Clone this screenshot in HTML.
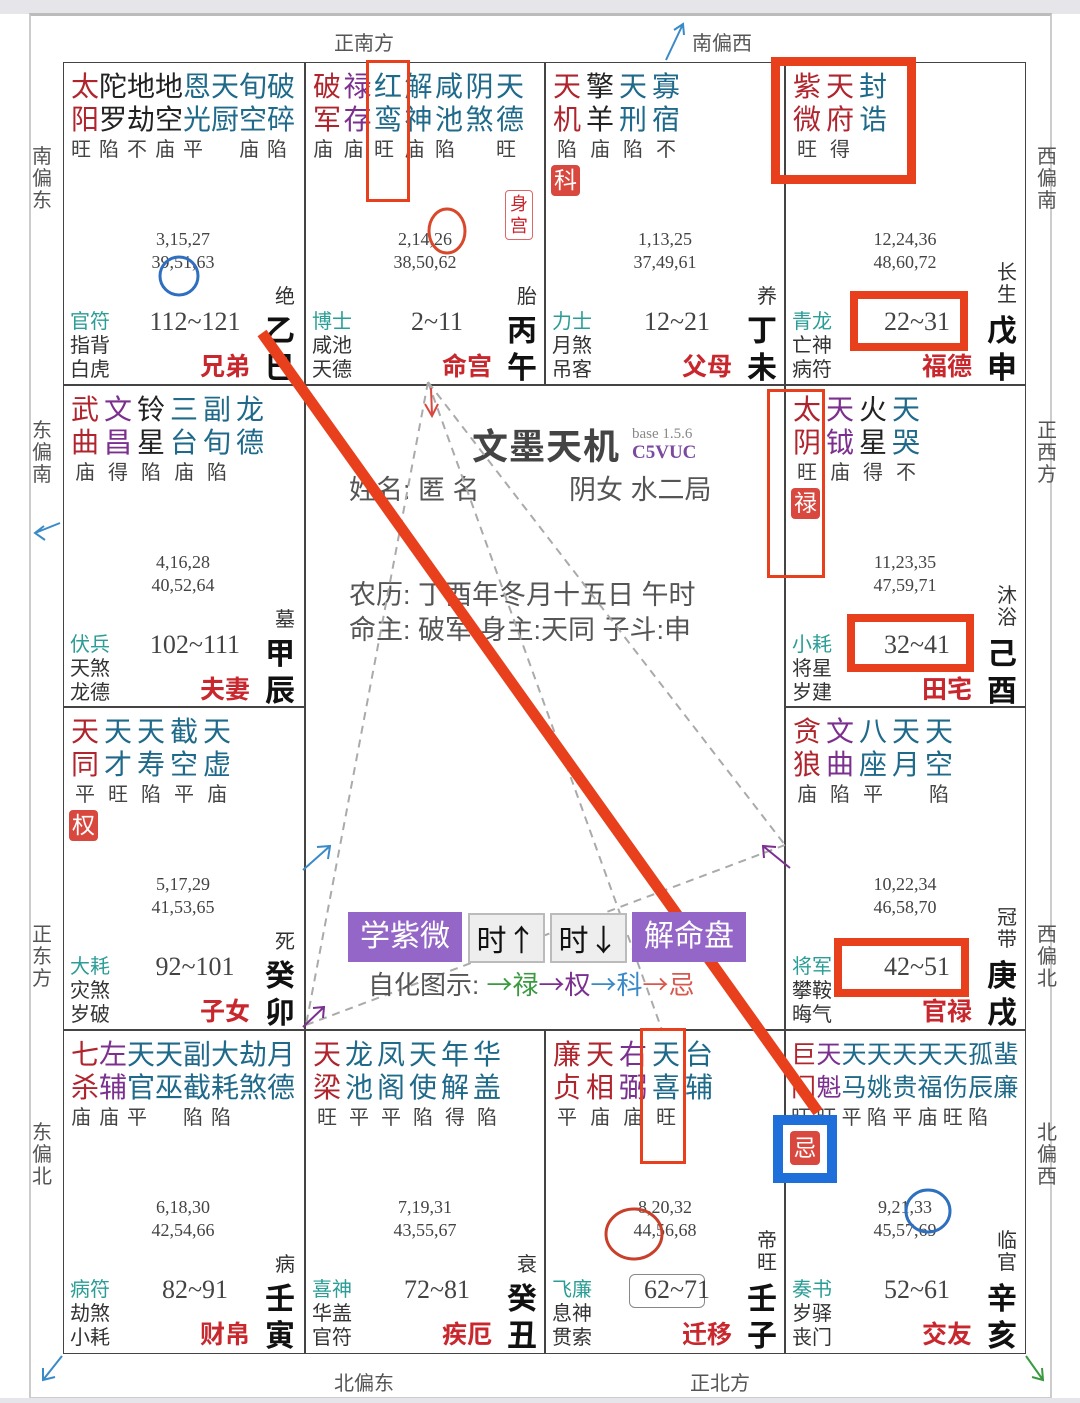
<!DOCTYPE html>
<html><head><meta charset="utf-8"><style>
*{margin:0;padding:0;box-sizing:border-box}
body{width:1080px;height:1403px;background:#fff;position:relative;overflow:hidden;font-family:"Liberation Sans","Noto Sans CJK SC",sans-serif}
.a{position:absolute}
.c{position:absolute;width:240px;height:322px}
.s{position:absolute;left:8px;font-size:28px;line-height:32px;white-space:nowrap;color:#222}
.s1{top:9px}.s2{top:42px}
.br{position:absolute;left:12px;top:76px;font-size:20px;line-height:24px;color:#444;white-space:nowrap}
.R{color:#b0252d}.T{color:#1f6a8a}.P{color:#7b2f8e}.K{color:#222}
.n{position:absolute;left:0;width:240px;top:166px;text-align:center;font:18px/23px "Liberation Serif","Noto Serif CJK SC",serif;color:#444}
.g{position:absolute;left:7px;top:248px;font-size:20px;line-height:24px;color:#333}
.gt{color:#2a9d96}
.rg{position:absolute;left:70px;width:124px;top:244px;text-align:center;font:26px/32px "Liberation Serif",serif;color:#444}
.pn{position:absolute;right:53px;top:290px;font-size:25px;line-height:30px;font-weight:bold;color:#c8272e}
.sb{position:absolute;left:202px;top:251px;font-size:30px;line-height:37px;font-weight:bold;color:#111}
.cs{position:absolute;left:212px;top:224px;font-size:20px;line-height:22px;color:#333;width:22px}
.cs2{top:200px}
.bd{position:absolute;left:6px;top:103px;width:29px;height:31px;background:#d9483e;color:#fff;font-size:23px;line-height:31px;text-align:center;border-radius:4px}
.vl{position:absolute;font-size:20px;line-height:22px;color:#555;width:22px}
.hl{position:absolute;font-size:20px;color:#555}
.box{position:absolute;border:solid #e8401c}
.ar{font-family:"Noto Sans CJK SC",sans-serif}
</style></head><body>
<div class="a" style="left:0;top:0;width:1080px;height:14px;background:#e6e6ea"></div>
<div class="a" style="left:29px;top:13px;width:1023px;height:1386px;border:2px solid #ccc;border-top:3px solid #bbb"></div>
<div class="a" style="left:0;top:1398px;width:1080px;height:5px;background:#e6e6ea"></div>
<div class="a" style="left:63px;top:62px;width:963px;height:1292px;border:1.5px solid #444"></div>
<div class="a" style="left:304px;top:62px;width:1.5px;height:1292px;background:#444"></div>
<div class="a" style="left:784px;top:62px;width:1.5px;height:1292px;background:#444"></div>
<div class="a" style="left:544px;top:62px;width:1.5px;height:323px;background:#444"></div>
<div class="a" style="left:544px;top:1030px;width:1.5px;height:323px;background:#444"></div>
<div class="a" style="left:63px;top:384px;width:963px;height:1.5px;background:#444"></div>
<div class="a" style="left:63px;top:1029px;width:963px;height:1.5px;background:#444"></div>
<div class="a" style="left:63px;top:706px;width:242px;height:1.5px;background:#444"></div>
<div class="a" style="left:784px;top:706px;width:242px;height:1.5px;background:#444"></div>

<div class="hl" style="left:334px;top:27px">正南方</div>
<div class="hl" style="left:692px;top:27px">南偏西</div>
<div class="hl" style="left:334px;top:1367px">北偏东</div>
<div class="hl" style="left:690px;top:1367px">正北方</div>
<div class="vl" style="left:32px;top:146px">南偏东</div>
<div class="vl" style="left:1037px;top:146px">西偏南</div>
<div class="vl" style="left:32px;top:420px">东偏南</div>
<div class="vl" style="left:1037px;top:420px">正西方</div>
<div class="vl" style="left:32px;top:924px">正东方</div>
<div class="vl" style="left:1037px;top:924px">西偏北</div>
<div class="vl" style="left:32px;top:1122px">东偏北</div>
<div class="vl" style="left:1037px;top:1122px">北偏西</div>

<div class="c" style="left:63px;top:62px">
<div class="s s1"><span class="R">太</span>陀地地<span class="T">恩天旬破</span></div>
<div class="s s2"><span class="R">阳</span>罗劫空<span class="T">光厨空碎</span></div>
<div class="br" style="left:8px;letter-spacing:8px">旺陷不庙平　庙陷</div>
<div class="n">3,15,27<br>39,51,63</div>
<div class="g"><span class="gt">官符</span><br>指背<br>白虎</div>
<div class="rg">112~121</div><div class="pn">兄弟</div><div class="sb">乙<br>巳</div><div class="cs">绝</div>
</div>
<div class="c" style="left:305px;top:62px">
<div class="s s1" style="letter-spacing:2.5px"><span class="R">破</span><span class="P">禄</span><span class="T">红解咸阴天</span></div>
<div class="s s2" style="letter-spacing:2.5px"><span class="R">军</span><span class="P">存</span><span class="T">鸾神池煞德</span></div>
<div class="br" style="left:8px;letter-spacing:10.5px">庙庙旺庙陷　旺</div>
<div class="a" style="left:200px;top:128px;width:28px;height:50px;border:1.5px solid #d66;border-radius:4px;color:#c8272e;font-size:18px;line-height:22px;text-align:center;padding-top:2px">身<br>宫</div>
<div class="n">2,14,26<br>38,50,62</div>
<div class="g"><span class="gt">博士</span><br>咸池<br>天德</div>
<div class="rg">2~11</div><div class="pn">命宫</div><div class="sb">丙<br>午</div><div class="cs">胎</div>
</div>
<div class="c" style="left:545px;top:62px">
<div class="s s1" style="letter-spacing:5px"><span class="R">天</span>擎<span class="T">天寡</span></div>
<div class="s s2" style="letter-spacing:5px"><span class="R">机</span>羊<span class="T">刑宿</span></div>
<div class="br" style="letter-spacing:13px">陷庙陷不</div>
<div class="bd">科</div>
<div class="n">1,13,25<br>37,49,61</div>
<div class="g"><span class="gt">力士</span><br>月煞<br>吊客</div>
<div class="rg">12~21</div><div class="pn">父母</div><div class="sb">丁<br>未</div><div class="cs">养</div>
</div>
<div class="c" style="left:785px;top:62px">
<div class="s s1" style="letter-spacing:5px"><span class="R">紫天</span><span class="T">封</span></div>
<div class="s s2" style="letter-spacing:5px"><span class="R">微府</span><span class="T">诰</span></div>
<div class="br" style="letter-spacing:13px">旺得</div>
<div class="n">12,24,36<br>48,60,72</div>
<div class="g"><span class="gt">青龙</span><br>亡神<br>病符</div>
<div class="rg">22~31</div><div class="pn">福德</div><div class="sb">戊<br>申</div><div class="cs cs2">长<br>生</div>
</div>
<div class="c" style="left:63px;top:385px">
<div class="s s1" style="letter-spacing:5px"><span class="R">武</span><span class="P">文</span>铃<span class="T">三副龙</span></div>
<div class="s s2" style="letter-spacing:5px"><span class="R">曲</span><span class="P">昌</span>星<span class="T">台旬德</span></div>
<div class="br" style="letter-spacing:13px">庙得陷庙陷</div>
<div class="n">4,16,28<br>40,52,64</div>
<div class="g"><span class="gt">伏兵</span><br>天煞<br>龙德</div>
<div class="rg">102~111</div><div class="pn">夫妻</div><div class="sb">甲<br>辰</div><div class="cs">墓</div>
</div>
<div class="c" style="left:785px;top:385px">
<div class="s s1" style="letter-spacing:5px"><span class="R">太</span><span class="P">天</span>火<span class="T">天</span></div>
<div class="s s2" style="letter-spacing:5px"><span class="R">阴</span><span class="P">钺</span>星<span class="T">哭</span></div>
<div class="br" style="letter-spacing:13px">旺庙得不</div>
<div class="bd">禄</div>
<div class="n">11,23,35<br>47,59,71</div>
<div class="g"><span class="gt">小耗</span><br>将星<br>岁建</div>
<div class="rg">32~41</div><div class="pn">田宅</div><div class="sb">己<br>酉</div><div class="cs cs2">沐<br>浴</div>
</div>
<div class="c" style="left:63px;top:707px">
<div class="s s1" style="letter-spacing:5px"><span class="R">天</span><span class="T">天天截天</span></div>
<div class="s s2" style="letter-spacing:5px"><span class="R">同</span><span class="T">才寿空虚</span></div>
<div class="br" style="letter-spacing:13px">平旺陷平庙</div>
<div class="bd">权</div>
<div class="n">5,17,29<br>41,53,65</div>
<div class="g"><span class="gt">大耗</span><br>灾煞<br>岁破</div>
<div class="rg">92~101</div><div class="pn">子女</div><div class="sb">癸<br>卯</div><div class="cs">死</div>
</div>
<div class="c" style="left:785px;top:707px">
<div class="s s1" style="letter-spacing:5px"><span class="R">贪</span><span class="P">文</span><span class="T">八天天</span></div>
<div class="s s2" style="letter-spacing:5px"><span class="R">狼</span><span class="P">曲</span><span class="T">座月空</span></div>
<div class="br" style="letter-spacing:13px">庙陷平　陷</div>
<div class="n">10,22,34<br>46,58,70</div>
<div class="g"><span class="gt">将军</span><br>攀鞍<br>晦气</div>
<div class="rg">42~51</div><div class="pn">官禄</div><div class="sb">庚<br>戌</div><div class="cs cs2">冠<br>带</div>
</div>
<div class="c" style="left:63px;top:1030px">
<div class="s s1"><span class="R">七</span><span class="P">左</span><span class="T">天天副大劫月</span></div>
<div class="s s2"><span class="R">杀</span><span class="P">辅</span><span class="T">官巫截耗煞德</span></div>
<div class="br" style="left:8px;letter-spacing:8px">庙庙平　陷陷</div>
<div class="n">6,18,30<br>42,54,66</div>
<div class="g"><span class="gt">病符</span><br>劫煞<br>小耗</div>
<div class="rg">82~91</div><div class="pn">财帛</div><div class="sb">壬<br>寅</div><div class="cs">病</div>
</div>
<div class="c" style="left:305px;top:1030px">
<div class="s s1" style="letter-spacing:4px"><span class="R">天</span><span class="T">龙凤天年华</span></div>
<div class="s s2" style="letter-spacing:4px"><span class="R">梁</span><span class="T">池阁使解盖</span></div>
<div class="br" style="letter-spacing:12px">旺平平陷得陷</div>
<div class="n">7,19,31<br>43,55,67</div>
<div class="g"><span class="gt">喜神</span><br>华盖<br>官符</div>
<div class="rg">72~81</div><div class="pn">疾厄</div><div class="sb">癸<br>丑</div><div class="cs">衰</div>
</div>
<div class="c" style="left:545px;top:1030px">
<div class="s s1" style="letter-spacing:5px"><span class="R">廉天</span><span class="P">右</span><span class="T">天台</span></div>
<div class="s s2" style="letter-spacing:5px"><span class="R">贞相</span><span class="P">弼</span><span class="T">喜辅</span></div>
<div class="br" style="letter-spacing:13px">平庙庙旺</div>
<div class="n">8,20,32<br>44,56,68</div>
<div class="g"><span class="gt">飞廉</span><br>息神<br>贯索</div>
<div class="a" style="left:84px;top:244px;width:76px;height:34px;border:1.5px solid #888;border-radius:6px"></div>
<div class="rg">62~71</div><div class="pn">迁移</div><div class="sb">壬<br>子</div><div class="cs cs2">帝<br>旺</div>
</div>
<div class="c" style="left:785px;top:1030px">
<div class="s s1" style="left:6px;font-size:25px;letter-spacing:0.3px"><span class="R">巨</span><span class="P">天</span><span class="T">天天天天天孤蜚</span></div>
<div class="s s2" style="left:6px;font-size:25px;letter-spacing:0.3px"><span class="R">门</span><span class="P">魁</span><span class="T">马姚贵福伤辰廉</span></div>
<div class="br" style="left:6px;letter-spacing:5.3px">旺旺平陷平庙旺陷</div>
<div class="n">9,21,33<br>45,57,69</div>
<div class="g"><span class="gt">奏书</span><br>岁驿<br>丧门</div>
<div class="rg">52~61</div><div class="pn">交友</div><div class="sb">辛<br>亥</div><div class="cs cs2">临<br>官</div>
</div>

<div class="a" style="left:472px;top:418px;font-size:36px;font-weight:bold;color:#444;letter-spacing:1px">文墨天机</div>
<div class="a" style="left:632px;top:426px;font:15px 'Liberation Serif',serif;color:#888">base 1.5.6</div>
<div class="a" style="left:632px;top:442px;font:bold 19px 'Liberation Serif',serif;color:#7b4aa0">C5VUC</div>
<div class="a" style="left:349px;top:468px;font-size:27px;color:#555">姓名: 匿 名</div>
<div class="a" style="left:569px;top:468px;font-size:27px;color:#555">阴女 水二局</div>
<div class="a" style="left:349px;top:573px;font-size:27px;color:#555">农历: 丁酉年冬月十五日 午时</div>
<div class="a" style="left:349px;top:608px;font-size:27px;color:#555">命主: 破军 身主:天同 子斗:申</div>

<svg class="a" style="left:0;top:0" width="1080" height="1403">
<g stroke="#aaa" stroke-width="2" stroke-dasharray="8,6" fill="none">
<line x1="428" y1="382" x2="306" y2="1025"/>
<line x1="428" y1="382" x2="662" y2="1030"/>
<line x1="428" y1="382" x2="785" y2="845"/>
<line x1="306" y1="1025" x2="785" y2="845"/>
</g>
<g fill="none" stroke-width="2">
<path d="M431 388 L432 415 M425 404 L432 416 L438 404" stroke="#d9483e"/>
<path d="M303 870 L330 846 M317 847 L330 846 L328 859" stroke="#3a8ac8"/>
<path d="M303 1027 L324 1007 M313 1008 L324 1007 L323 1018" stroke="#7b2f8e"/>
<path d="M790 868 L763 846 M764 858 L763 846 L776 847" stroke="#7b2f8e"/>
<path d="M666 60 L683 24 M674 30 L683 24 L684 35" stroke="#3a8ac8"/>
<path d="M60 523 L35 533 M44 526 L35 533 L45 540" stroke="#3a8ac8"/>
<path d="M62 1356 L43 1380 M43 1368 L43 1380 L55 1377" stroke="#3a8ac8"/>
<path d="M1026 1356 L1043 1380 M1032 1377 L1043 1380 L1042 1368" stroke="#3a9a40"/>
</g>
<line x1="262" y1="333" x2="818" y2="1112" stroke="#e8401c" stroke-width="11"/>
<ellipse cx="447" cy="231" rx="18" ry="22" fill="none" stroke="#d9482a" stroke-width="3"/>
<ellipse cx="179" cy="276" rx="19" ry="19" fill="none" stroke="#2f6fc0" stroke-width="3"/>
<ellipse cx="634" cy="1234" rx="28" ry="25" fill="none" stroke="#c8402a" stroke-width="3"/>
<ellipse cx="928" cy="1211" rx="22" ry="21" fill="none" stroke="#2f6fc0" stroke-width="3"/>
</svg>

<div class="box" style="left:366px;top:60px;width:44px;height:142px;border-width:3px"></div>
<div class="box" style="left:771px;top:57px;width:145px;height:127px;border-width:9px"></div>
<div class="box" style="left:850px;top:291px;width:118px;height:60px;border-width:8px"></div>
<div class="box" style="left:847px;top:614px;width:127px;height:58px;border-width:8px"></div>
<div class="box" style="left:834px;top:938px;width:135px;height:59px;border-width:8px"></div>
<div class="box" style="left:767px;top:389px;width:58px;height:189px;border-width:3px"></div>
<div class="box" style="left:640px;top:1028px;width:46px;height:136px;border-width:3px"></div>
<div class="a" style="left:773px;top:1115px;width:64px;height:68px;background:#1e6fd9;padding:10px"><div style="width:44px;height:48px;background:#fff;padding:6px 7px"><div style="width:30px;height:34px;background:#d9483e;color:#fff;font-size:23px;line-height:34px;text-align:center;border-radius:4px">忌</div></div></div>

<div class="a" style="left:348px;top:912px;width:114px;height:50px;background:#9466c8;color:#fff;font-size:30px;line-height:50px;text-align:center">学紫微</div>
<div class="a" style="left:468px;top:913px;width:77px;height:50px;background:#eee;border:2px solid #bbb;color:#111;font-size:30px;line-height:46px;text-align:center">时<span class="ar">↑</span></div>
<div class="a" style="left:550px;top:913px;width:77px;height:50px;background:#eee;border:2px solid #bbb;color:#111;font-size:30px;line-height:46px;text-align:center">时<span class="ar">↓</span></div>
<div class="a" style="left:632px;top:912px;width:114px;height:50px;background:#9466c8;color:#fff;font-size:30px;line-height:50px;text-align:center">解命盘</div>
<div class="a" style="left:368px;top:965px;font-size:26px;color:#555;white-space:nowrap">自化图示: <span style="color:#3a9a40"><span class="ar">→</span>禄</span><span style="color:#7b2f8e"><span class="ar">→</span>权</span><span style="color:#3a8ac8"><span class="ar">→</span>科</span><span style="color:#d9584e"><span class="ar">→</span>忌</span></div>
</body></html>
